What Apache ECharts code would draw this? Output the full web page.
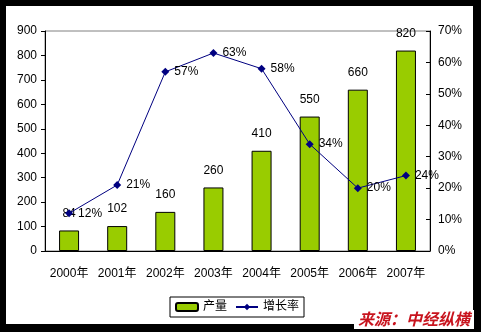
<!DOCTYPE html>
<html><head><meta charset="utf-8">
<script src="https://cdn.jsdelivr.net/npm/echarts@6/dist/echarts.min.js"></script>
<style>html,body{margin:0;padding:0;background:#000;}#c{width:481px;height:332px;}</style>
</head><body><div id="c"></div>
<script>
const categories = ['2000年','2001年','2002年','2003年','2004年','2005年','2006年','2007年'];
const output = [84, 102, 160, 260, 410, 550, 660, 820];
const growth = [12, 21, 57, 63, 58, 34, 20, 24];
const leftTicks = {min: 0, max: 900, interval: 100};
const rightTicks = {min: 0, max: 70, interval: 10};
const seriesNames = ['产量', '增长率'];
const sourceText = '来源：中经纵横';

const font = "Arial, 'Liberation Sans', 'Noto Sans CJK SC', sans-serif";
const chart = echarts.init(document.getElementById('c'));
chart.setOption({
  backgroundColor: '#000',
  animation: false,
  textStyle: {fontFamily: font},
  graphic: [
    {type: 'rect', z: -10, shape: {x: 6, y: 6, width: 467, height: 318}, style: {fill: '#fff'}},
    {type: 'rect', z: 90, shape: {x: 354, y: 310, width: 120, height: 19}, style: {fill: '#fff'}},
    {type: 'text', z: 100, left: 358, top: 311, style: {text: sourceText, fill: '#c8141e', font: "italic bold 16px 'Noto Sans CJK SC', sans-serif", textShadowColor: 'rgba(0,0,0,0.35)', textShadowOffsetX: 1, textShadowOffsetY: 1, textShadowBlur: 0}}
  ],
  grid: {left: 45, right: 51, top: 31, bottom: 81, show: true, borderColor: '#808080', borderWidth: 1, backgroundColor: 'transparent'},
  legend: {
    left: 170, top: 297, width: 133,
    padding: [4, 5], itemGap: 8, itemWidth: 22, itemHeight: 8,
    borderColor: '#000', borderWidth: 1, backgroundColor: '#fff',
    textStyle: {fontSize: 12, color: '#000', fontFamily: font},
    data: [seriesNames[0], seriesNames[1]]
  },
  xAxis: {
    type: 'category', data: categories, boundaryGap: true,
    axisLine: {lineStyle: {color: '#000', width: 1}},
    axisTick: {inside: true, length: 5, lineStyle: {color: '#000'}},
    axisLabel: {color: '#000', fontSize: 12, margin: 17, interval: 0, fontFamily: font}
  },
  yAxis: [
    {type: 'value', min: leftTicks.min, max: leftTicks.max, interval: leftTicks.interval,
     axisLine: {show: true, lineStyle: {color: '#000'}},
     axisTick: {show: true, length: 4, lineStyle: {color: '#000'}},
     splitLine: {show: false},
     axisLabel: {color: '#000', fontSize: 12, margin: 8, fontFamily: font}},
    {type: 'value', min: rightTicks.min, max: rightTicks.max, interval: rightTicks.interval, position: 'right',
     axisLine: {show: true, lineStyle: {color: '#000'}},
     axisTick: {show: true, inside: true, length: 4, lineStyle: {color: '#000'}},
     splitLine: {show: false},
     axisLabel: {color: '#000', fontSize: 12, margin: 8, formatter: '{value}%', fontFamily: font}}
  ],
  series: [
    {name: seriesNames[0], type: 'bar', data: output, barWidth: 20, yAxisIndex: 0,
     itemStyle: {color: '#99cc00', borderColor: '#000', borderWidth: 1},
     label: {show: true, position: 'top', distance: 11, color: '#000', fontSize: 12, fontFamily: font}},
    {name: seriesNames[1], type: 'line', data: growth, yAxisIndex: 1, z: 5,
     symbol: 'diamond', symbolSize: 8,
     lineStyle: {color: '#000080', width: 1},
     itemStyle: {color: '#000080'},
     label: {show: true, position: 'right', distance: 5, color: '#000', fontSize: 12, formatter: '{c}%', fontFamily: font}}
  ]
});
</script></body></html>
